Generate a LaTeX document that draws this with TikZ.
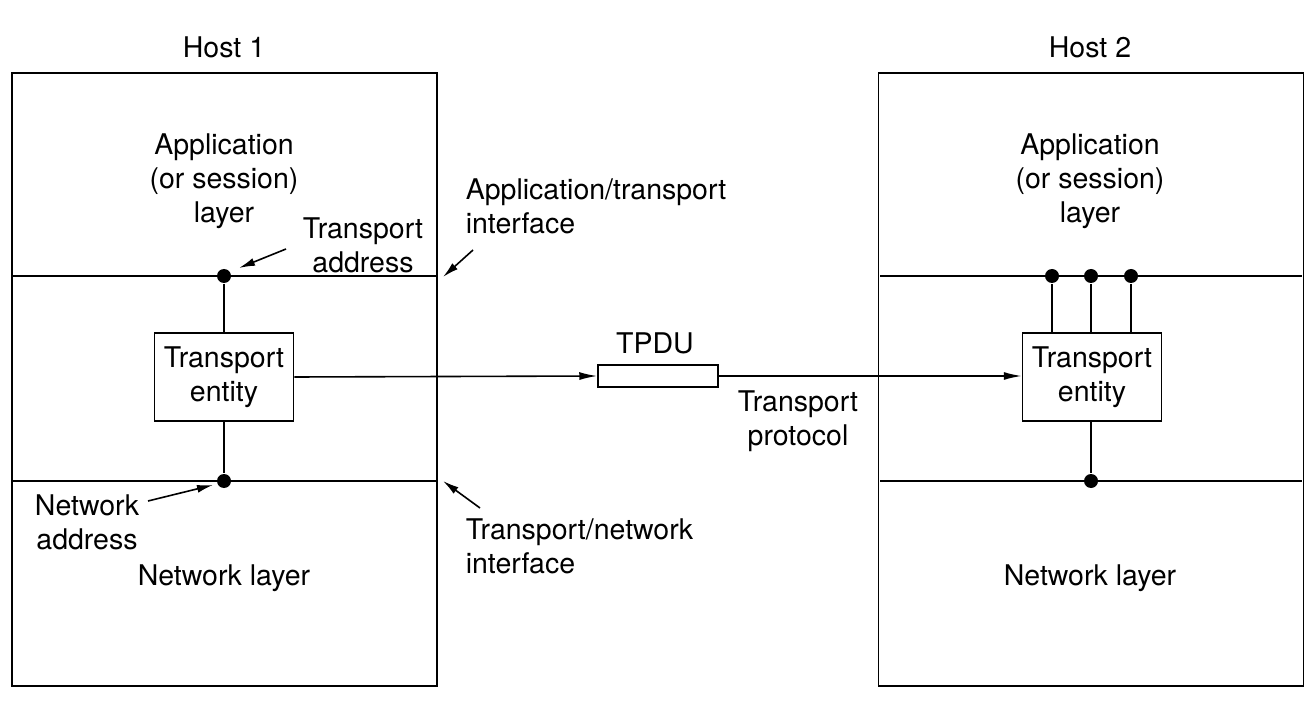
\documentclass[tikz,border=0pt]{standalone}
\usepackage{fontspec}
\setmainfont{TeX Gyre Heros}
\usetikzlibrary{arrows.meta}
\begin{document}
\begin{tikzpicture}[x=1pt,y=-1pt,line width=1.6pt,
  lbl/.style={font=\fontsize{28.5}{34}\selectfont, align=center, inner sep=0pt},
  lbll/.style={lbl, align=left, anchor=west},
  host/.style={draw, line width=1.8pt, minimum width=425pt, minimum height=613pt, inner sep=0pt},
  entity/.style={draw, line width=1.5pt, minimum width=139pt, minimum height=88pt, inner sep=0pt,
                 font=\fontsize{28.5}{34}\selectfont, align=center},
  pdu/.style={draw, line width=1.5pt, minimum width=120pt, minimum height=22pt, inner sep=0pt},
  dot/.style={circle, fill, inner sep=0pt, minimum size=14pt},
  ptr/.style={-{Latex[length=16pt,width=8pt]}, line width=1.6pt},
  flow/.style={-{Latex[length=18pt,width=8pt]}, line width=1.6pt},
]
\useasboundingbox (0,0) rectangle (1314,708);

% hosts
\node[host] (h1) at (224.5,379.5) {};
\node[host] (h2) at (1091,379.5) {};
\node[lbl] (h1t) at (224,47) {Host 1};
\node[lbl] (h2t) at (1090,47) {Host 2};

% layer boundaries
\coordinate (a1l) at (12,276);   \coordinate (a1r) at (437,276);
\coordinate (n1l) at (12,481);   \coordinate (n1r) at (437,481);
\coordinate (a2l) at (880,276);  \coordinate (a2r) at (1302,276);
\coordinate (n2l) at (880,481);  \coordinate (n2r) at (1302,481);
\draw (a1l) -- (a1r);
\draw (n1l) -- (n1r);
\draw (a2l) -- (a2r);
\draw (n2l) -- (n2r);

% layer names
\node[lbl] (app1) at (224,181) {Application\\(or session)\\layer};
\node[lbl] (app2) at (1090,181) {Application\\(or session)\\layer};
\node[lbl] (net1) at (224,578) {Network layer};
\node[lbl] (net2) at (1090,578) {Network layer};

% transport entities
\node[entity] (e1) at (224,377) {Transport\\entity};
\node[entity] (e2) at (1092,377) {Transport\\entity};

% host 1 access points
\node[dot] (ta1) at (224,276) {};
\node[dot] (na1) at (224,481) {};
\draw (ta1) -- (e1.north);
\draw (e1.south) -- (na1);

% host 2 access points
\node[dot] (ta2a) at (1052,276) {};
\node[dot] (ta2b) at (1091,276) {};
\node[dot] (ta2c) at (1131,276) {};
\node[dot] (na2) at (1091,481) {};
\draw (ta2a) -- (ta2a |- e2.north);
\draw (ta2b) -- (ta2b |- e2.north);
\draw (ta2c) -- (ta2c |- e2.north);
\draw (na2 |- e2.south) -- (na2);

% TPDU exchange
\node[pdu] (tpdu) at (658,376) {};
\node[lbl] (tpdut) at (655,343) {TPDU};
\draw[flow] (e1.east) -- (tpdu.west);
\draw[flow] (tpdu.east) -- (tpdu.east -| e2.west);
\node[lbl] (proto) at (798,421) {Transport\\protocol};

% annotations
\node[lbl] (taddr) at (363,245) {Transport\\address};
\coordinate (taddrs) at (286,249);
\coordinate (taddre) at (239,268);
\draw[ptr] (taddrs) -- (taddre);

\node[lbll] (ati) at (465,206) {Application/transport\\interface};
\coordinate (atis) at (473,250);
\coordinate (atie) at (443,277);
\draw[ptr] (atis) -- (atie);

\node[lbl] (naddr) at (87,522) {Network\\address};
\coordinate (naddrs) at (148,501);
\coordinate (naddre) at (213,485);
\draw[ptr] (naddrs) -- (naddre);

\node[lbll] (tni) at (465,546) {Transport/network\\interface};
\coordinate (tnis) at (480,508);
\coordinate (tnie) at (443,481);
\draw[ptr] (tnis) -- (tnie);
\end{tikzpicture}
\end{document}
